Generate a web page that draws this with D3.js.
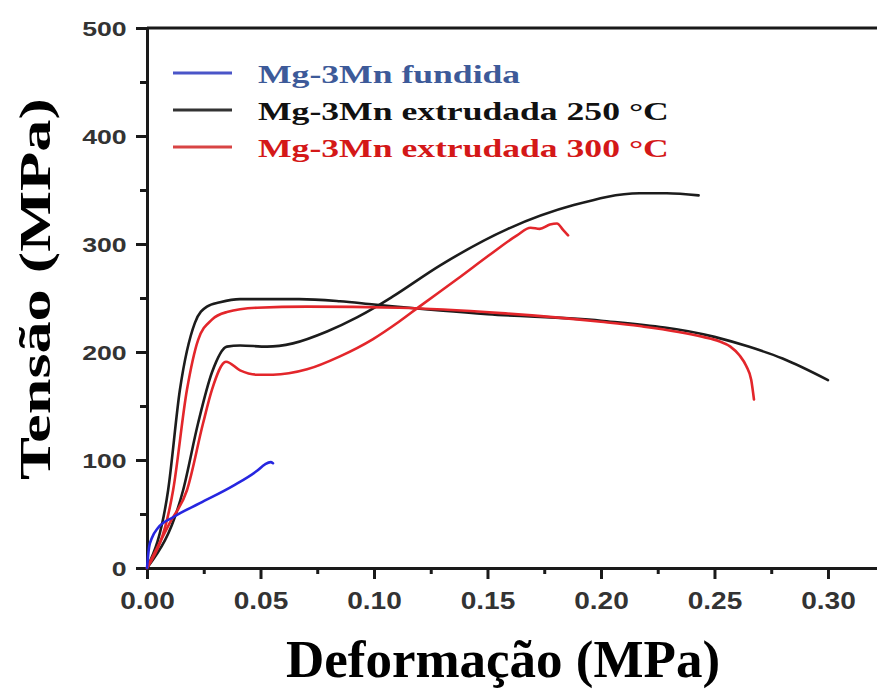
<!DOCTYPE html>
<html>
<head>
<meta charset="utf-8">
<script src="https://cdn.jsdelivr.net/npm/d3@7"></script>
<style>
    body { margin: 0; background: #fff; }
    svg { display: block; }
</style>
</head>
<body>
<div id="chart"></div>
<script>
// Series: [strain, stress MPa]
const fundida = [
    [0, 0], [0.0009, 19], [0.0022, 28], [0.0048, 37], [0.0115, 47], [0.0233, 60],
    [0.0379, 76], [0.0485, 90], [0.052, 96], [0.0545, 98], [0.0555, 97]
];
const extr250a = [
    [0, 0], [0.0093, 72], [0.0145, 165], [0.0211, 227], [0.0264, 242], [0.0322, 246],
    [0.041, 249], [0.067, 249], [0.085, 247], [0.10, 244], [0.15, 235], [0.20, 229],
    [0.25, 214], [0.265, 205], [0.28, 194], [0.30, 174]
];
const extr250b = [
    [0, 0], [0.0159, 72], [0.0225, 134], [0.0286, 181], [0.0352, 205], [0.041, 206],
    [0.0529, 205], [0.0643, 208], [0.0793, 219], [0.0925, 232], [0.101, 242], [0.108, 251],
    [0.129, 280], [0.159, 314], [0.188, 336], [0.217, 347], [0.229, 347], [0.243, 345]
];
const extr300a = [
    [0, 0], [0.0115, 72], [0.0176, 165], [0.0225, 211], [0.0286, 230], [0.0352, 237],
    [0.0485, 241], [0.0705, 242], [0.111, 241], [0.156, 236], [0.20, 228], [0.217, 224],
    [0.245, 214], [0.252, 210], [0.257, 205], [0.261, 197], [0.264, 187], [0.2662, 174],
    [0.2674, 156]
];
const extr300b = [
    [0, 0], [0.0101, 42], [0.0176, 72], [0.0247, 134], [0.0286, 165], [0.0348, 191],
    [0.041, 183], [0.0485, 179], [0.0555, 179], [0.0705, 184], [0.085, 196], [0.0996, 212],
    [0.111, 228], [0.12, 242], [0.137, 268], [0.151, 290], [0.163, 308], [0.169, 315],
    [0.173, 314], [0.1775, 318], [0.1806, 319], [0.1833, 313], [0.1855, 308]
];

const legendLabels = ["Mg-3Mn fundida", "Mg-3Mn extrudada 250 °C", "Mg-3Mn extrudada 300 °C"];
const xTicks = [0, 0.05, 0.10, 0.15, 0.20, 0.25, 0.30];
const xMinor = [0.025, 0.075, 0.125, 0.175, 0.225, 0.275];
const yTicks = [0, 100, 200, 300, 400, 500];
const yMinor = [50, 150, 250, 350, 450];

const width = 877, height = 691;
const margin = { top: 28, right: 0, bottom: 123, left: 147 };

const svg = d3.select("#chart").append("svg")
    .attr("width", width)
    .attr("height", height);

const x = d3.scaleLinear()
    .domain([0, 0.3216])
    .range([margin.left, width - margin.right]);

const y = d3.scaleLinear()
    .domain([0, 500])
    .range([height - margin.bottom, margin.top]);

const axisColor = "#1a1a1a";
const serif = "'Liberation Serif', 'Times New Roman', Times, serif";
const sans = "'Liberation Sans', Arial, Helvetica, sans-serif";

// minor ticks first, so the axis lines sit on top
svg.append("g")
    .attr("transform", `translate(0,${y(0)})`)
    .call(d3.axisBottom(x).tickValues(xMinor).tickSize(6).tickFormat(""))
    .call(g => g.select(".domain").remove())
    .call(g => g.selectAll("line").attr("stroke", axisColor).attr("stroke-width", 3));

svg.append("g")
    .attr("transform", `translate(${x(0)},0)`)
    .call(d3.axisLeft(y).tickValues(yMinor).tickSize(7).tickFormat(""))
    .call(g => g.select(".domain").remove())
    .call(g => g.selectAll("line").attr("stroke", axisColor).attr("stroke-width", 3));

// x axis
svg.append("g")
    .attr("transform", `translate(0,${y(0)})`)
    .call(d3.axisBottom(x).tickValues(xTicks).tickSize(11).tickSizeOuter(0).tickFormat(d3.format(".2f")))
    .call(g => g.select(".domain").attr("stroke", axisColor).attr("stroke-width", 3))
    .call(g => g.selectAll("line").attr("stroke", axisColor).attr("stroke-width", 3))
    .call(g => g.selectAll("text")
        .attr("y", 41)
        .attr("dy", null)
        .attr("transform", "scale(1.22,1)")
        .attr("fill", "#333")
        .style("font-family", sans)
        .style("font-weight", "bold")
        .style("font-size", "23px"));

// y axis
svg.append("g")
    .attr("transform", `translate(${x(0)},0)`)
    .call(d3.axisLeft(y).tickValues(yTicks).tickSize(11).tickSizeOuter(0))
    .call(g => g.select(".domain").attr("stroke", axisColor).attr("stroke-width", 3))
    .call(g => g.selectAll("line").attr("stroke", axisColor).attr("stroke-width", 3))
    .call(g => g.selectAll("text")
        .attr("x", -16)
        .attr("dy", "0.36em")
        .attr("transform", "scale(1.27,1)")
        .attr("fill", "#333")
        .style("font-family", sans)
        .style("font-weight", "bold")
        .style("font-size", "21px"));

// top frame line
svg.append("line")
    .attr("x1", x(0)).attr("x2", width)
    .attr("y1", y(500)).attr("y2", y(500))
    .attr("stroke", axisColor)
    .attr("stroke-width", 3);

// curves
const line = d3.line()
    .x(d => x(d[0]))
    .y(d => y(d[1]))
    .curve(d3.curveMonotoneX);

const series = [
    { data: extr250a, color: "#1c1c1c" },
    { data: extr250b, color: "#1c1c1c" },
    { data: extr300a, color: "#e3262b" },
    { data: extr300b, color: "#e3262b" },
    { data: fundida, color: "#2626e0" }
];

svg.append("g")
    .selectAll("path")
    .data(series)
    .join("path")
    .attr("d", d => line(d.data))
    .attr("fill", "none")
    .attr("stroke", d => d.color)
    .attr("stroke-width", 2.6)
    .attr("stroke-linejoin", "round")
    .attr("stroke-linecap", "round");

// legend
const legendLine = ["#4a55c8", "#333333", "#d84444"];
const legendText = ["#3d5a99", "#111111", "#d41818"];

const legend = svg.append("g")
    .selectAll("g")
    .data(legendLabels)
    .join("g")
    .attr("transform", (d, i) => `translate(173,${73 + i * 37})`);

legend.append("line")
    .attr("x1", 0).attr("x2", 59)
    .attr("stroke", (d, i) => legendLine[i])
    .attr("stroke-width", 3);

legend.append("text")
    .attr("transform", "translate(85,10) scale(1.37,1)")
    .attr("fill", (d, i) => legendText[i])
    .style("font-family", serif)
    .style("font-weight", "bold")
    .style("font-size", "26px")
    .text(d => d);

// axis titles
svg.append("text")
    .attr("x", 503)
    .attr("y", 677)
    .attr("text-anchor", "middle")
    .attr("fill", "#000")
    .style("font-family", serif)
    .style("font-weight", "bold")
    .style("font-size", "53px")
    .text("Deformação (MPa)");

svg.append("text")
    .attr("transform", "translate(50,289) rotate(-90) scale(1.43,1)")
    .attr("text-anchor", "middle")
    .attr("fill", "#000")
    .style("font-family", serif)
    .style("font-weight", "bold")
    .style("font-size", "45px")
    .text("Tensão (MPa)");
</script>
</body>
</html>
